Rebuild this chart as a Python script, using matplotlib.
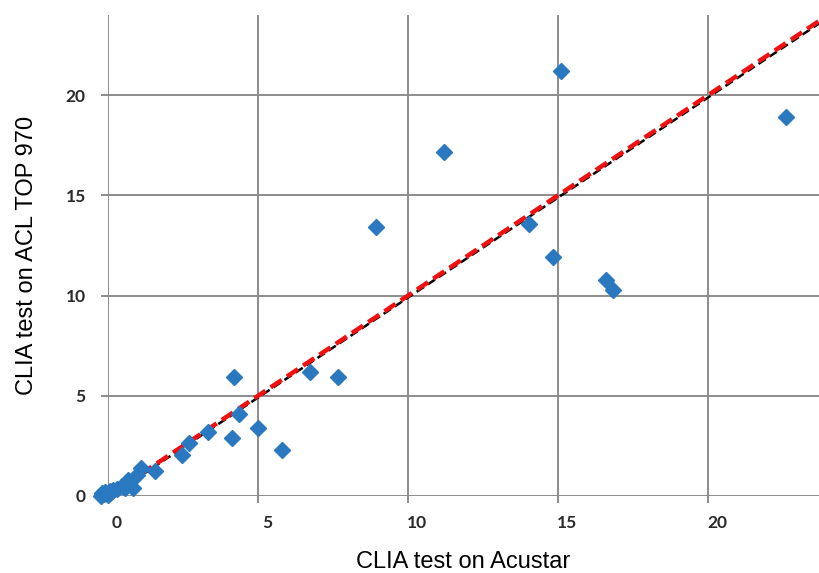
import matplotlib.pyplot as plt
import matplotlib.transforms as mtransforms
import numpy as np

# CLIA results, Acustar (x) vs ACL TOP 970 (y)
acustar = [-0.25, -0.2, -0.15, -0.1, 0.0, 0.05, 0.15, 0.3, 0.45, 0.55,
           0.07, 0.68, 0.84, 0.96, 1.1, 1.57, 2.48, 2.7, 3.34, 4.14,
           4.37, 5.01, 5.79, 4.2, 6.73, 7.67, 8.93, 11.2, 14.03, 14.83,
           15.1, 16.6, 16.83, 22.6]
acl_top = [0.0, 0.15, 0.1, 0.2, 0.05, 0.25, 0.3, 0.35, 0.5, 0.4,
           0.15, 0.8, 0.38, 1.05, 1.38, 1.27, 2.05, 2.63, 3.2, 2.88,
           4.1, 3.38, 2.3, 5.95, 6.2, 5.95, 13.4, 17.15, 13.55, 11.95,
           21.2, 10.8, 10.3, 18.9]

# identity line and fitted regression line
identity = (1.0, 0.0)
fit = (0.998, -0.08)

fig = plt.figure(figsize=(8.19, 5.73), dpi=100)
ax = fig.add_axes([0.1319, 0.1344, 0.8681, 0.8394])

xs = np.array([0, 24.5])
ax.plot(xs, fit[0] * xs + fit[1], color='black', lw=1.8, ls=(0, (3.5, 1.8)), zorder=3)
ax.plot(xs, identity[0] * xs + identity[1], color='#f01010', lw=3.2, ls=(0, (3, 1.4)), zorder=4)
ax.plot(acustar, acl_top, ls='none', marker='D', ms=8, color='#2a78c0',
        clip_on=False, zorder=5)

ax.set_xlim(0, 23.7)
ax.set_ylim(0, 24)
ax.set_xticks([0, 5, 10, 15, 20])
ax.set_yticks([0, 5, 10, 15, 20])
ax.grid(True, color='#8c8c8c', lw=1.4)
ax.set_axisbelow(True)
for s in ax.spines.values():
    s.set_visible(False)
ax.tick_params(length=5, width=1.4, color='#8c8c8c', labelsize=12.5, labelcolor='#2a2a2a')
ax.tick_params(axis='x', pad=9)
ax.tick_params(axis='y', pad=11)

# labels in the source sit a little right of their gridlines
shift = mtransforms.ScaledTranslation(9 / 100, 0, fig.dpi_scale_trans)
for lab in ax.get_xticklabels():
    lab.set_transform(lab.get_transform() + shift)
for lab in ax.get_xticklabels() + ax.get_yticklabels():
    lab.set_fontweight('bold')
    lab.set_family('Lato')

ax.set_xlabel('CLIA test on Acustar', fontsize=17, family='Liberation Sans', labelpad=14)
ax.set_ylabel('CLIA test on ACL TOP 970', fontsize=17, family='Liberation Sans', labelpad=20)

fig.savefig('out.png', dpi=100)
